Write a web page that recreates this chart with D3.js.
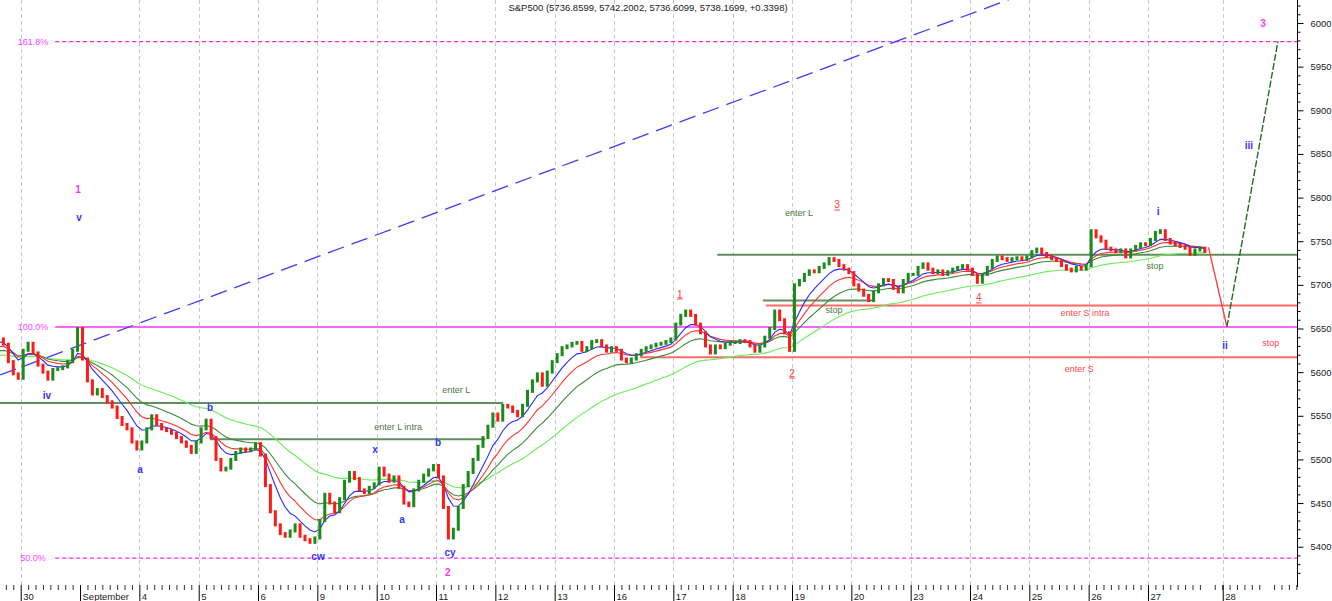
<!DOCTYPE html>
<html><head><meta charset="utf-8">
<script src="https://cdn.jsdelivr.net/npm/d3@7"></script>
<style>
html,body{margin:0;padding:0;background:#fff;}
svg{display:block;font-family:"Liberation Sans",Arial,sans-serif;}
</style></head><body>
<svg id="c" width="1332" height="601"></svg>
<script>
// ---------- DATA ----------
const titleText = "S&P500 (5736.8599, 5742.2002, 5736.6099, 5738.1699, +0.3398)";
const axisTickLabels = ["30","September","4","5","6","9","10","11","12","13","16","17","18","19","20","23","24","25","26","27","28"];
const axisTickDays = [0,1,2,3,4,5,6,7,8,9,10,11,12,13,14,15,16,17,18,19,20.26];
const priceTicks = [5400,5450,5500,5550,5600,5650,5700,5750,5800,5850,5900,5950,6000];

const sessionDays = [-1,0,1,2,3,4,5,6,7,8,9,10,11,12,13,14,15,16,17,18,19];
const closes = [
  [5612,5618,5625,5635,5640,5645,5642,5638,5632,5612,5598,5593], // Aug 29
  [5625,5633,5622,5608,5600,5592,5603,5604,5606,5612,5625,5650], // Aug 30
  [5615,5590,5575,5580,5572,5566,5560,5548,5540,5535,5520,5512], // Sep 3
  [5520,5535,5550,5540,5535,5533,5530,5525,5520,5515,5508,5520], // Sep 4
  [5535,5545,5525,5500,5488,5490,5500,5508,5512,5510,5512,5518], // Sep 5
  [5505,5470,5440,5425,5415,5412,5418,5425,5412,5408,5405,5410], // Sep 6
  [5430,5460,5450,5440,5455,5475,5485,5478,5465,5462,5468,5472], // Sep 9
  [5490,5482,5475,5480,5468,5450,5447,5465,5475,5482,5488,5493], // Sep 10
  [5480,5445,5410,5420,5445,5470,5485,5500,5515,5525,5538,5552], // Sep 11
  [5545,5562,5560,5555,5550,5562,5578,5590,5598,5585,5600,5612], // Sep 12
  [5620,5628,5630,5633,5634,5625,5628,5635,5636,5630,5624,5628], // Sep 13
  [5625,5615,5612,5615,5620,5625,5628,5630,5632,5633,5635,5638], // Sep 16
  [5655,5665,5670,5665,5655,5645,5630,5622,5630,5628,5632,5634], // Sep 17
  [5634,5636,5635,5630,5624,5630,5640,5650,5670,5660,5645,5625], // Sep 18
  [5700,5705,5712,5716,5715,5720,5724,5730,5728,5722,5718,5714], // Sep 19
  [5700,5694,5688,5682,5692,5700,5706,5705,5696,5692,5705,5712], // Sep 20
  [5712,5720,5724,5718,5714,5716,5712,5715,5718,5720,5722,5718], // Sep 23
  [5712,5703,5712,5720,5728,5732,5730,5728,5730,5731,5729,5732], // Sep 24
  [5738,5741,5736,5733,5730,5728,5722,5718,5716,5720,5718,5722], // Sep 25
  [5762,5755,5750,5742,5740,5738,5740,5732,5740,5744,5747,5746], // Sep 26
  [5752,5760,5762,5752,5748,5746,5744,5742,5735,5740,5742,5738.17] // Sep 27
];
const emaPeriods = [40,20,12,7];

const fibNames = ["161.8%","100.0%","50.0%"];
const fibPrices = [5978.6,5651.6,5387.0];
const fibFromDay = 0.58;

const levelPrices = [5564.6,5523.0,5734.6,5682.0,5676.3,5617.0];
const levelFrom   = [-0.35,3.19,11.74,12.51,12.56,10.44];
const levelTo     = [8.13,7.83,21.6,14.36,21.6,21.6];
const levelSide   = ["L","L","L","L","S","S"];

const trendDays = [-0.349,17.0];
const trendPrices = [5596.7,6035.6];

const projDays = [20.02,20.33,21.19];
const projPrices = [5743,5652,5979];

const waveText  = ["1","v","iv","a","b","cw","x","a","b","cy","2","1","2","3","4","i","ii","iii","3"];
const waveDays  = [0.966,0.983,0.443,2.011,3.19,5.011,5.97,6.427,7.034,7.236,7.2,11.11,13.0,13.76,16.15,19.17,20.3,20.7,20.94];
const wavePrice = [5808.7,5776.6,5573.8,5489,5559,5388.2,5511,5431.7,5519,5393,5371,5689.5,5599,5791.5,5685,5784.6,5631,5860.2,6000];
const waveKind  = ["M","B","B","B","B","B","B","B","B","B","M","R","R","R","R","B","B","B","M"];

const noteText  = ["enter L","enter L intra","enter L","stop","stop","enter S intra","enter S","stop"];
const noteDays  = [7.34,6.36,13.12,13.71,19.12,17.94,17.84,21.07];
const notePrice = [5579.5,5537,5782.3,5671.2,5721.6,5667.7,5603.6,5633.4];
const noteSide  = ["L","L","L","L","L","S","S","S"];

// ---------- DRAW ----------
const svg = d3.select("#c");
const W = 1297.5, AXY = 585;
const x = d3.scaleLinear().domain([-0.349,21.52]).range([0,W]);
const y = d3.scaleLinear().domain([5400,6000]).range([546.7,23]);

svg.append("defs").append("clipPath").attr("id","plot")
  .append("rect").attr("x",0).attr("y",0).attr("width",W).attr("height",AXY);

// grid
svg.append("g").selectAll("line")
  .data(axisTickDays.filter((d,i)=>!isNaN(+axisTickLabels[i])))
  .join("line")
  .attr("x1",d=>Math.round(x(d))+0.5).attr("x2",d=>Math.round(x(d))+0.5)
  .attr("y1",0).attr("y2",AXY)
  .attr("stroke","#c8c8c8").attr("stroke-dasharray","4,3");

const plot = svg.append("g").attr("clip-path","url(#plot)");

// fib levels
fibPrices.forEach((p,i)=>{
  plot.append("line").attr("x1",x(fibFromDay)).attr("x2",W)
    .attr("y1",y(p)).attr("y2",y(p))
    .attr("stroke", i===1 ? "#ff66ff" : "#ff22ff")
    .attr("stroke-width", i===1 ? 2 : 1.2)
    .attr("stroke-dasharray", i===1 ? null : "4,3");
  svg.append("text").attr("x",x(0.207)).attr("y",y(p)).attr("dy","0.35em")
    .attr("text-anchor","middle").attr("font-size",9).attr("fill","#ff44ff").text(fibNames[i]);
});

// entry/stop levels
levelPrices.forEach((p,i)=>{
  plot.append("line").attr("x1",x(levelFrom[i])).attr("x2",x(levelTo[i]))
    .attr("y1",y(p)).attr("y2",y(p))
    .attr("stroke", levelSide[i]==="L" ? "#5f8f5f" : "#ff6a6a")
    .attr("stroke-width",2);
});

// trend line
plot.append("line").attr("x1",x(trendDays[0])).attr("x2",x(trendDays[1]))
  .attr("y1",y(trendPrices[0])).attr("y2",y(trendPrices[1]))
  .attr("stroke","#3c3cf5").attr("stroke-width",1.3).attr("stroke-dasharray","17,8");

// bars
const bars = [];
let prev = closes[0][0];
sessionDays.forEach((d,si)=>{
  const n = closes[si].length;
  closes[si].forEach((c,k)=>{
    bars.push({t:d+(k+0.5)/n, o:prev, c:c});
    prev = c;
  });
});

// EMAs
const emaColors = ["#66ee55","#3a8a3a","#ff3333","#2a2aff"];
emaPeriods.forEach((per,j)=>{
  const a = 2/(per+1);
  let e = bars[0].c;
  const pts = bars.map(b=>{ e = e + a*(b.c-e); return [b.t,e]; });
  plot.append("path").datum(pts)
    .attr("d",d3.line().x(d=>x(d[0])).y(d=>y(d[1])))
    .attr("fill","none").attr("stroke",emaColors[j]).attr("stroke-width",1.1);
});

plot.append("g").selectAll("rect").data(bars).join("rect")
  .attr("x",d=>x(d.t)-1.5).attr("width",3)
  .attr("y",d=>y(Math.max(d.o,d.c))-1.5)
  .attr("height",d=>Math.max(2,y(Math.min(d.o,d.c))-y(Math.max(d.o,d.c))+3))
  .attr("fill",d=>d.c>=d.o ? "#1a8a1a" : "#ff1a1a");

// projection
plot.append("line").attr("x1",x(projDays[0])).attr("y1",y(projPrices[0]))
  .attr("x2",x(projDays[1])).attr("y2",y(projPrices[1]))
  .attr("stroke","#ff3a3a").attr("stroke-width",1.3);
plot.append("line").attr("x1",x(projDays[1])).attr("y1",y(projPrices[1]))
  .attr("x2",x(projDays[2])).attr("y2",y(projPrices[2]))
  .attr("stroke","#1f6f1f").attr("stroke-width",1.4).attr("stroke-dasharray","7,2");

// wave labels
const waveColor = {M:"#ff33ff",B:"#3434ff",R:"#ff4040"};
waveText.forEach((t,i)=>{
  svg.append("text").attr("x",x(waveDays[i])).attr("y",y(wavePrice[i])).attr("dy","0.35em")
    .attr("text-anchor","middle").attr("font-size",10)
    .attr("font-weight", waveKind[i]==="R" ? "normal" : "bold")
    .attr("text-decoration", waveKind[i]==="R" ? "underline" : null)
    .attr("fill",waveColor[waveKind[i]]).text(t);
});

// level notes
noteText.forEach((t,i)=>{
  svg.append("text").attr("x",x(noteDays[i])).attr("y",y(notePrice[i])).attr("dy","0.35em")
    .attr("text-anchor","middle").attr("font-size",9)
    .attr("fill", noteSide[i]==="L" ? "#4a7a3a" : "#ff4a4a").text(t);
});

// title
svg.append("text").attr("x",648).attr("y",8).attr("dy","0.35em").attr("text-anchor","middle")
  .attr("font-size",9.5).attr("fill","#222").text(titleText);

// right axis
const yMinor = d3.range(5370,6030,10).filter(v=>v%50!==0);
const ra = svg.append("g").attr("transform",`translate(${W},0)`);
ra.call(d3.axisRight(y).tickValues(yMinor).tickSize(3).tickFormat(""))
  .call(g=>g.select(".domain").remove());
ra.append("g").call(d3.axisRight(y).tickValues(priceTicks).tickSize(6).tickPadding(7).tickFormat(d3.format("d")))
  .call(g=>g.select(".domain").remove())
  .call(g=>g.selectAll("text").attr("font-size",9.5).attr("fill","#222").attr("font-family","Liberation Sans, Arial, sans-serif"));
svg.append("line").attr("x1",W).attr("x2",W).attr("y1",0).attr("y2",AXY+2).attr("stroke","#000");

// bottom axis
const xMinor = d3.range(-1,21.6,0.125).filter(v=>x(v)>=0 && x(v)<W-1 && Math.abs(v-Math.round(v))>1e-6);
svg.append("g").attr("transform",`translate(0,${AXY})`)
  .call(d3.axisBottom(x).tickValues(xMinor).tickSize(5).tickFormat(""))
  .call(g=>g.select(".domain").remove())
  .call(g=>g.selectAll("line").attr("stroke","#333"));
svg.append("g").attr("transform",`translate(0,${AXY})`)
  .call(d3.axisBottom(x).tickValues(axisTickDays).tickSize(16).tickFormat((d,i)=>axisTickLabels[i]))
  .call(g=>g.select(".domain").remove())
  .call(g=>g.selectAll("text").attr("x",2).attr("y",8).attr("dy","0.71em").attr("text-anchor","start")
       .attr("font-size",9.5).attr("fill","#222").attr("font-family","Liberation Sans, Arial, sans-serif"));
</script>
</body></html>
